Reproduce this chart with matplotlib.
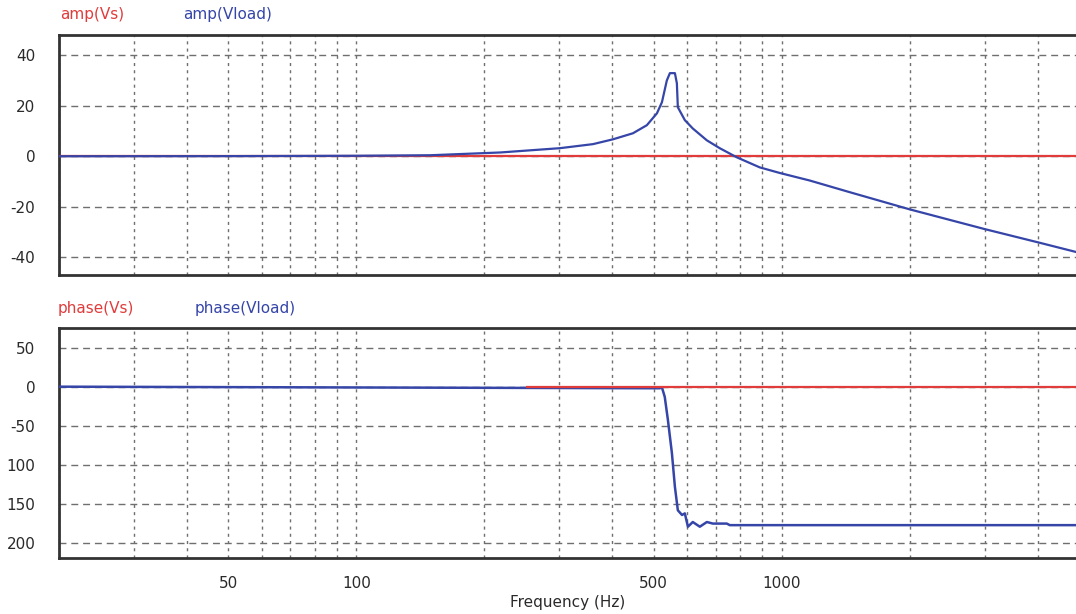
import matplotlib
matplotlib.use("Agg")
import matplotlib.pyplot as plt
from matplotlib.ticker import FixedLocator, NullFormatter

plt.rcParams['font.family'] = ['DejaVu Sans']

# ---- data ----
amp_freq = [20, 50, 100, 149, 218, 301, 360, 401, 447, 482, 509, 523, 537, 546,
            561, 567, 570, 592, 618, 667, 715, 784, 888, 989, 1164, 1444,
            1998, 2997, 4033, 4898, 5000]
amp_vload = [0, 0.05, 0.2, 0.4, 1.5, 3.2, 4.8, 6.7, 9.1, 12.3, 17, 21.4, 30, 32.9,
             32.9, 28.9, 19.4, 14.3, 11, 6.3, 3.2, -0.4, -4.4, -6.6, -9.6, -14.2,
             -21.0, -28.8, -34.2, -37.8, -38.2]
amp_vs_freq = [20, 5000]
amp_vs = [0, 0]

phase_freq = [20, 481, 517, 523, 531, 540, 552, 561, 570, 583, 592, 602, 618,
              642, 667, 689, 743, 755, 5000]
phase_vload = [0, -2, -2, -1, -13, -42, -85, -128, -158, -164, -162, -179, -173,
               -179, -173, -175, -175, -177, -177]
phase_vs_freq = [252, 5000]
phase_vs = [0, 0]

x_major = [50, 100, 500, 1000]
x_labels = ['50', '100', '500', '1000']
x_minor = [20, 30, 40, 60, 70, 80, 90, 200, 300, 400, 600, 700, 800, 900,
           2000, 3000, 4000]
amp_yticks = [40, 20, 0, -20, -40]
amp_ylabels = ['40', '20', '0', '-20', '-40']
phase_yticks = [50, 0, -50, -100, -150, -200]
phase_ylabels = ['50', '0', '-50', '100', '150', '200']

RED = '#e03c3c'
BLUE = '#3545a8'
TXT = '#2a2a2a'
FS = 11

W, H = 1076, 614
fig = plt.figure(figsize=(W / 100, H / 100), dpi=100)

def fx(px):
    return px / W

def fy(py):
    return 1 - py / H

ax1 = fig.add_axes([fx(59), fy(275), fx(1079 - 59), fy(35) - fy(275)])
ax2 = fig.add_axes([fx(59), fy(558), fx(1079 - 59), fy(328) - fy(558)])

for ax in (ax1, ax2):
    ax.set_xscale('log')
    ax.set_xlim(20, 5000)
    ax.xaxis.set_major_locator(FixedLocator(x_major))
    ax.xaxis.set_minor_locator(FixedLocator(x_minor))
    ax.xaxis.set_minor_formatter(NullFormatter())
    ax.grid(True, which='both', axis='x', color='#6f6f6f', linestyle=(0, (2.2, 3)), linewidth=1.0)
    ax.grid(True, which='major', axis='y', color='#6f6f6f', linestyle=(0, (5, 3.5)), linewidth=1.0)
    ax.tick_params(axis='both', which='both', length=0, labelsize=FS, labelcolor=TXT)
    ax.tick_params(axis='y', pad=17)
    for s in ('top', 'bottom', 'left'):
        ax.spines[s].set_color('#333333')
        ax.spines[s].set_linewidth(2.0)
    ax.spines['right'].set_visible(False)
    ax.set_axisbelow(True)

# top panel
ax1.plot(amp_vs_freq, amp_vs, color=RED, linewidth=1.6, zorder=3)
ax1.plot(amp_freq, amp_vload, color=BLUE, linewidth=1.6, zorder=4)
ax1.set_ylim(-47, 48)
ax1.set_yticks(amp_yticks)
ax1.set_yticklabels(amp_ylabels)
ax1.set_xticklabels([])

# bottom panel
ax2.plot(phase_freq, phase_vload, color=BLUE, linewidth=1.8, zorder=3)
ax2.plot(phase_vs_freq, phase_vs, color=RED, linewidth=1.6, zorder=4)
ax2.set_ylim(-219, 75)
ax2.set_yticks(phase_yticks)
ax2.set_yticklabels(phase_ylabels)
ax2.set_xticklabels(x_labels)
ax2.tick_params(axis='x', pad=13)

fig.text(fx(568), fy(603), 'Frequency (Hz)', fontsize=FS, color=TXT, ha='center', va='center')

# series labels
fig.text(fx(60), fy(15), 'amp(Vs)', color=RED, fontsize=FS, va='center', ha='left')
fig.text(fx(183), fy(15), 'amp(Vload)', color=BLUE, fontsize=FS, va='center', ha='left')
fig.text(fx(58), fy(308), 'phase(Vs)', color=RED, fontsize=FS, va='center', ha='left')
fig.text(fx(195), fy(308), 'phase(Vload)', color=BLUE, fontsize=FS, va='center', ha='left')

fig.savefig('out.png', dpi=100)
